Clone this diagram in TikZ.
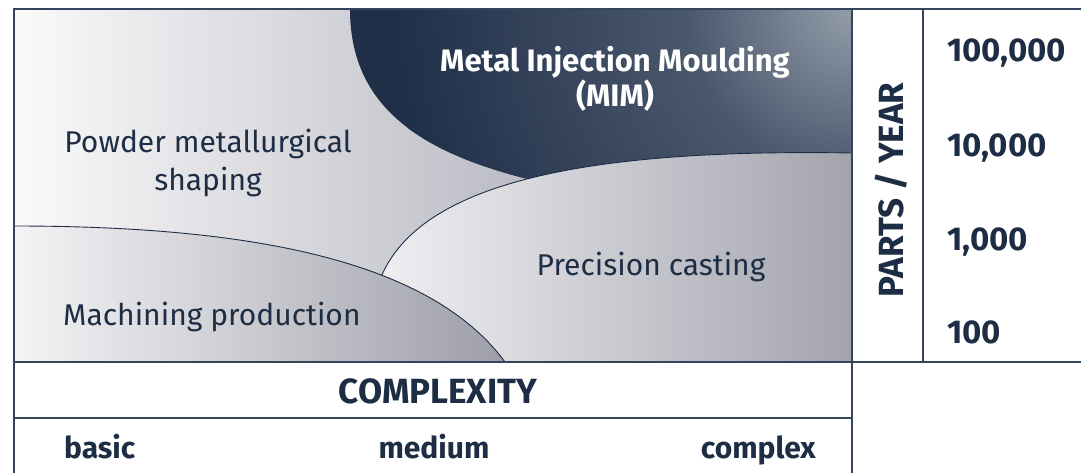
\documentclass[tikz,border=0pt]{standalone}
\usepackage{fontspec}
\setmainfont{Fira Sans}
\usepackage{tikz}
\usetikzlibrary{positioning}

\definecolor{navy}{HTML}{1D2D44}
\definecolor{mimdark}{HTML}{1F2F48}
\definecolor{mimmid}{HTML}{4A586D}
\definecolor{mimglow}{HTML}{939DAA}
\definecolor{gridline}{HTML}{34445A}
\definecolor{bglight}{HTML}{FAFAFB}
\definecolor{bgdark}{HTML}{9393A2}
\definecolor{pclight}{HTML}{EFEFF2}
\definecolor{pcdark}{HTML}{A4A4AF}
\definecolor{mclight}{HTML}{F4F4F6}
\definecolor{mcdark}{HTML}{9E9EA9}

% corner glow of the MIM area
\pgfdeclareradialshading{cornerglow}{\pgfpoint{0bp}{0bp}}{%
  color(0bp)=(mimglow); color(9bp)=(mimmid); color(25bp)=(mimdark); color(50bp)=(mimdark)}

\begin{document}
\begin{tikzpicture}[
    x=1pt, y=-1pt,
    lbl/.style={inner sep=0pt, text=navy, font=\fontsize{30}{38}\selectfont},
    head/.style={inner sep=0pt, text=navy, font=\fontsize{35}{40}\selectfont\bfseries},
    qty/.style={inner sep=0pt, text=navy, anchor=base west, font=\fontsize{33}{36}\selectfont\bfseries},
    grade/.style={inner sep=0pt, text=navy, font=\fontsize{30}{34}\selectfont\bfseries},
    gridrule/.style={draw=gridline, line width=1.2pt},
    edge/.style={draw=navy, line width=0.9pt}
]
\useasboundingbox (0,0) rectangle (1081,473);

% powder metallurgy fills the whole field
\shade[left color=bglight, right color=bgdark] (14,9) rectangle (852,362);

% MIM area, dark with a glow in the corner
\fill[mimdark] (350,9) .. controls (350,110) and (425,155) .. (540,182) -- (600,240) -- (852,240) -- (852,9) -- cycle;
\begin{scope}
  \clip (350,9) .. controls (350,110) and (425,155) .. (540,182) -- (600,240) -- (852,240) -- (852,9) -- cycle;
  \shade[shading=cornerglow] (852,9) circle (460pt);
\end{scope}

% precision casting
\shade[left color=pclight, right color=pcdark] (378,285) .. controls (410,190) and (560,148) .. (852,153) -- (852,362) -- (378,362) -- cycle;
\draw[edge] (378,285) .. controls (410,190) and (560,148) .. (852,153);

% machining
\shade[left color=mclight, right color=mcdark] (14,226) .. controls (250,226) and (430,260) .. (505,362) -- (14,362) -- cycle;
\draw[edge] (14,226) .. controls (250,226) and (430,260) .. (505,362);

% table lines
\draw[gridrule] (14,473) -- (14,9) -- (1081,9);
\draw[gridrule] (852,9) -- (852,473);
\draw[gridrule] (923,9) -- (923,362);
\draw[gridrule] (14,362) -- (1081,362);
\draw[gridrule] (14,418) -- (852,418);

\node[lbl, align=center, anchor=base] (powder) at (208,190) {Powder metallurgical\\shaping};
\node[lbl, anchor=base west] (machining) at (63,325) {Machining production};
\node[lbl, anchor=base] (precision) at (651,275) {Precision casting};
\node[lbl, align=center, anchor=base, text=white, font=\fontsize{31}{35}\selectfont\bfseries] (mim) at (615,107) {Metal Injection Moulding\\(MIM)};

\node[head, anchor=base] (complexity) at (438,403) {COMPLEXITY};
\node[grade, anchor=base west] (basic) at (64,458) {basic};
\node[grade, anchor=base] (medium) at (434,458) {medium};
\node[grade, anchor=base east] (complex) at (816,458) {complex};

\node[head, rotate=90] (parts) at (891,190) {PARTS / YEAR};
\node[qty] (q100000) at (947,62) {100,000};
\node[qty] (q10000) at (947,157) {10,000};
\node[qty] (q1000) at (947,250) {1,000};
\node[qty] (q100) at (947,343) {100};

\end{tikzpicture}
\end{document}
